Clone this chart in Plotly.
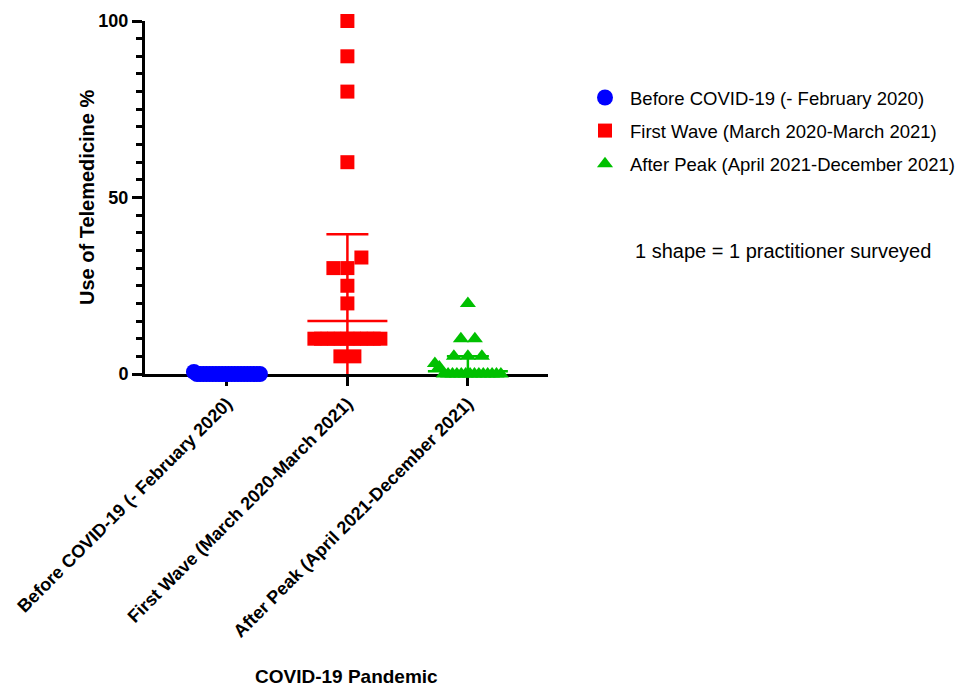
import plotly.graph_objects as go

# ---------------- data ----------------
categories = ["Before COVID-19 (- February 2020)",
              "First Wave (March 2020-March 2021)",
              "After Peak (April 2021-December 2021)"]
series_names = categories
before_values = [0.6] + [0] * 21
first_wave_values = [100, 90, 80, 60, 30, 30, 33, 25, 20] + [10] * 11 + [5, 5]
after_peak_values = [20, 10, 10, 5, 5, 5, 3, 2] + [0] * 14
group_means = [0.05, 15, 0.8]
group_sd = [0.2, 24.6, 4.2]
colors = ["#0000FF", "#FF0000", "#00C000"]
symbols = ["circle", "square", "triangle-up"]
marker_sizes = [16, 14, 14]
y_tickvals = [0, 50, 100]
note_text = "1 shape = 1 practitioner surveyed"
x_title = "COVID-19 Pandemic"
y_title = "Use of Telemedicine %"

# ---------------- layout geometry ----------------
# the page body has an 8px margin, so the figure is drawn 8px in from the corner
OFF = 8
W, H = 970 - OFF, 686 - OFF
ML, MT = 145 - OFF, 21 - OFF
PLOT_R, PLOT_B = 548 - OFF, 374 - OFF
MR, MB = W - PLOT_R, H - PLOT_B
X_RANGE = [-0.68, 2.665]
Y_RANGE = [0, 100]
PW, PH = W - ML - MR, H - MT - MB
PX_PER_X = PW / (X_RANGE[1] - X_RANGE[0])
PX_PER_Y = PH / (Y_RANGE[1] - Y_RANGE[0])


def px_to_paper_x(px):
    return (px - OFF - ML) / PW


def px_to_paper_y(py):
    return (PLOT_B - (py - OFF)) / PH


def swarm_offsets(values, step_px=14, half_px=33, row_px=13):
    """Spread points sharing (nearly) the same value horizontally."""
    n = len(values)
    order = sorted(range(n), key=lambda i: values[i])
    rows = []
    for i in order:
        if rows and (values[i] - values[rows[-1][0]]) * PX_PER_Y < row_px:
            rows[-1].append(i)
        else:
            rows.append([i])
    off = [0.0] * n
    for row in rows:
        row.sort()
        k = len(row)
        if k == 1:
            continue
        gap = min(step_px, 2 * half_px / (k - 1))
        for j, i in enumerate(row):
            off[i] = (j - (k - 1) / 2) * gap / PX_PER_X
    return off


FONT = "Liberation Sans, Arial, Helvetica, sans-serif"
fig = go.Figure()

all_values = [before_values, first_wave_values, after_peak_values]
mean_half = 40 / PX_PER_X
cap_half = 21 / PX_PER_X

for gi, vals in enumerate(all_values):
    offs = swarm_offsets(vals)
    xs = [gi + o for o in offs]
    fig.add_trace(go.Scatter(
        x=xs, y=vals, mode="markers", name=series_names[gi],
        legendgroup=f"g{gi}",
        marker=dict(symbol=symbols[gi], size=marker_sizes[gi], color=colors[gi],
                    line=dict(width=0)),
        cliponaxis=False, hoverinfo="y",
    ))

for gi in range(3):
    m, s = group_means[gi], group_sd[gi]
    lo = max(Y_RANGE[0], m - s)
    hi = m + s
    fig.add_trace(go.Scatter(x=[gi - mean_half, gi + mean_half], y=[m, m], mode="lines",
                             line=dict(color=colors[gi], width=2.5), showlegend=False,
                             hoverinfo="skip", cliponaxis=False))
    fig.add_trace(go.Scatter(x=[gi, gi], y=[lo, hi], mode="lines",
                             line=dict(color=colors[gi], width=2.5), showlegend=False,
                             hoverinfo="skip", cliponaxis=False))
    fig.add_trace(go.Scatter(x=[gi - cap_half, gi + cap_half], y=[hi, hi], mode="lines",
                             line=dict(color=colors[gi], width=2.5), showlegend=False,
                             hoverinfo="skip", cliponaxis=False))

minor_vals = [v for v in range(0, 101, 5) if v not in y_tickvals]

fig.update_layout(
    width=W, height=H, autosize=False,
    margin=dict(l=ML, r=MR, t=MT, b=MB, pad=0, autoexpand=False),
    paper_bgcolor="white", plot_bgcolor="white",
    font=dict(family=FONT, color="black"),
    showlegend=True,
    legend=dict(x=px_to_paper_x(580), y=px_to_paper_y(79),
                xanchor="left", yanchor="top",
                font=dict(family=FONT, size=18.5, color="black"),
                traceorder="grouped", tracegroupgap=6, itemwidth=40,
                bgcolor="rgba(0,0,0,0)", itemsizing="trace"),
    xaxis=dict(range=X_RANGE, tickmode="array", tickvals=[0, 1, 2], ticktext=categories,
               tickangle=-45, tickfont=dict(family=FONT, size=18, color="black", weight="bold"),
               showline=True, linecolor="black", linewidth=3, automargin=False,
               ticks="outside", ticklen=9, tickwidth=3, tickcolor="black",
               showgrid=False, zeroline=False, layer="below traces", fixedrange=True),
    yaxis=dict(range=Y_RANGE, tickmode="array", tickvals=y_tickvals,
               tickfont=dict(family=FONT, size=18, color="black", weight="bold"),
               showline=True, linecolor="black", linewidth=3, automargin=False,
               ticks="outside", ticklen=10, tickwidth=3, tickcolor="black",
               minor=dict(tickmode="array", tickvals=minor_vals, ticks="outside",
                          ticklen=6, tickwidth=3, tickcolor="black", showgrid=False),
               showgrid=False, zeroline=False, layer="below traces", fixedrange=True),
    annotations=[
        dict(text=note_text, xref="paper", yref="paper",
             x=px_to_paper_x(633), y=px_to_paper_y(251),
             xanchor="left", yanchor="middle", showarrow=False,
             font=dict(family=FONT, size=20, color="black")),
        dict(text=f"<b>{x_title}</b>", xref="paper", yref="paper",
             x=0.5, y=px_to_paper_y(676),
             xanchor="center", yanchor="middle", showarrow=False,
             font=dict(family=FONT, size=19, color="black")),
        dict(text=f"<b>{y_title}</b>", xref="paper", yref="paper",
             x=px_to_paper_x(87), y=px_to_paper_y(198),
             xanchor="center", yanchor="middle", showarrow=False, textangle=-90,
             font=dict(family=FONT, size=20, color="black")),
    ],
)

fig.write_html("out.html")
